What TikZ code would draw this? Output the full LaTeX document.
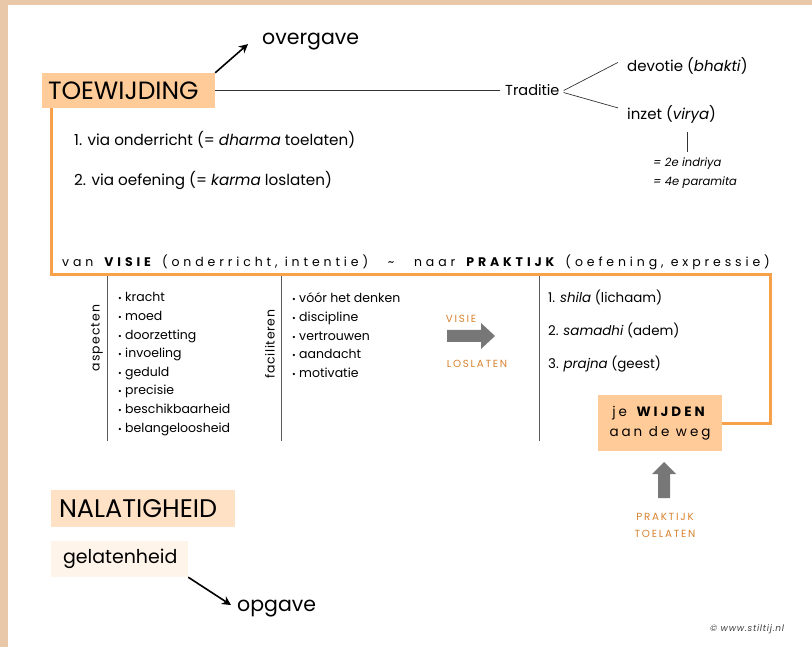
\documentclass[tikz,border=0pt]{standalone}
\usepackage{fontspec}
\setmainfont{Poppins}
\usetikzlibrary{calc,arrows.meta}
\definecolor{frametan}{HTML}{E8C8A8}
\definecolor{boxorange}{HTML}{FFCB98}
\definecolor{boxlight}{HTML}{FFE1C5}
\definecolor{boxpale}{HTML}{FFF4EA}
\definecolor{lineorange}{HTML}{F7A24B}
\definecolor{textorange}{HTML}{D8822E}
\definecolor{arrowgray}{HTML}{777777}
\newcommand{\fsz}[1]{\fontsize{#1}{#1}\selectfont}
\newcommand{\spaced}[1]{\addfontfeature{LetterSpace=#1}}

\begin{document}
\begin{tikzpicture}[x=1pt,y=-1pt,
  txt/.style={anchor=base west,inner sep=0pt},
  bigbox/.style={fill=boxorange,inner sep=0pt,minimum width=173,minimum height=35},
  orangeline/.style={lineorange,line width=3pt},
  thinline/.style={black!80,line width=0.7pt},
  grayline/.style={black!65,line width=0.8pt},
  blackarrow/.style={-{Stealth[length=9pt,width=9pt]},line width=1.6pt},
  tag/.style={anchor=base,inner sep=0pt,textorange,font=\fsz{10.3}\spaced{17}},
  bullet/.style={anchor=base west,inner sep=0pt,font=\fsz{12.5}}]
  \useasboundingbox (0,0) rectangle (812,647);
  \fill[frametan] (0,0) rectangle (812,5);
  \fill[frametan] (0,0) rectangle (8,647);

  % toewijding
  \node[bigbox,font=\fsz{25},text width=161,inner xsep=6pt] (toew) at (128.5,90.5) {TOEWIJDING};
  \node[txt,font=\fsz{20.5}] (over) at (262,45) {overgave};
  \draw[blackarrow] (toew.north east) -- ($(over.west)+(-14,2)$);

  \node[txt,font=\fsz{14.5}] (trad) at (505,96) {Traditie};
  \draw[thinline] (toew.east) -- ([xshift=-5pt]trad.west);
  \node[txt,font=\fsz{15}] (devo) at (627,72) {devotie (\textit{bhakti})};
  \node[txt,font=\fsz{15}] (inzet) at (627,120) {inzet (\textit{virya})};
  \draw[thinline] ($(trad.east)+(4,0)$) -- ($(devo.west)+(-9,-4)$);
  \draw[thinline] ($(trad.east)+(4,2)$) -- ($(inzet.west)+(-9,-7)$);
  \node[txt,font=\fsz{11.5}\itshape] (indr) at (653,167) {= 2e indriya};
  \node[txt,font=\fsz{11.5}\itshape] (param) at (653,186) {= 4e paramita};
  \draw[thinline] ([yshift=-8pt]inzet.south -| indr.north) -- ([yshift=6pt]indr.north);

  \node[txt,font=\fsz{15.2}] (via1) at (74,146) {1. via onderricht (= \textit{dharma} toelaten)};
  \node[txt,font=\fsz{15.2}] (via2) at (74,186) {2. via oefening (= \textit{karma} loslaten)};

  % van visie naar praktijk
  \node[txt,font=\fsz{12.5}\spaced{31}] (vanvisie) at (62,267)
    {van \textbf{VISIE} (onderricht, intentie)\quad\ \textasciitilde\quad\ naar \textbf{PRAKTIJK} (oefening, expressie)};

  \node[bigbox,minimum width=124,minimum height=56,align=center,font=\fsz{13.5}\spaced{22}] (wijden) at (660,423)
    {je \textbf{WIJDEN}\\[6pt]aan de weg};
  \draw[orangeline] ($(toew.south west)+(10,0)$) |- (770,275) |- (wijden.east);

  \draw[grayline] (107,276) -- (107,441);
  \draw[grayline] (281,276) -- (281,441);
  \draw[grayline] (539,276) -- (539,441);
  \node[rotate=90,inner sep=0pt,font=\fsz{12.5}\spaced{8}] (asp) at (97,338) {aspecten};
  \node[rotate=90,inner sep=0pt,font=\fsz{12.5}\spaced{5}] (facil) at (270,344) {faciliteren};

  \foreach \t [count=\i] in {kracht,moed,doorzetting,invoeling,geduld,precisie,beschikbaarheid,belangeloosheid}
    \node[bullet] (aspitem\i) at (118,{302+18.6*(\i-1)}) {{\fsz{9}•}\ \t};
  \foreach \t [count=\i] in {v\'o\'or het denken,discipline,vertrouwen,aandacht,motivatie}
    \node[bullet] (facitem\i) at (292,{303+18.6*(\i-1)}) {{\fsz{9}•}\ \t};

  \node[tag] (visie) at (461,323) {VISIE};
  \fill[arrowgray] (447,330) -- (481,330) -- (481,323) -- (495,336) -- (481,349) -- (481,342) -- (447,342) -- cycle;
  \node[tag] (loslaten) at (477,367) {LOSLATEN};

  \node[txt,font=\fsz{13.4}] (shila) at (548,303) {1. \textit{shila} (lichaam)};
  \node[txt,font=\fsz{13.4}] (samadhi) at (548,336) {2. \textit{samadhi} (adem)};
  \node[txt,font=\fsz{13.4}] (prajna) at (548,369) {3. \textit{prajna} (geest)};

  \fill[arrowgray] (658,498) -- (658,474) -- (652,474) -- (664,462) -- (676,474) -- (670,474) -- (670,498) -- cycle;
  \node[tag] (praktijk) at (665,520) {PRAKTIJK};
  \node[tag] (toelaten) at (665,537) {TOELATEN};

  % nalatigheid
  \node[fill=boxlight,inner sep=0pt,inner xsep=8pt,minimum height=37,text width=168,font=\fsz{25.5}] (nala) at (143,508.5) {NALATIGHEID};
  \node[fill=boxpale,inner sep=0pt,inner xsep=12pt,minimum height=36,text width=113,font=\fsz{19}] (gela) at (119.5,559) {gelatenheid};
  \node[txt,font=\fsz{20.5}] (opga) at (237,611) {opgave};
  \draw[blackarrow] (gela.south east) -- ($(opga.west)+(-6,-3)$);

  \node[txt,font=\fsz{9}\itshape\spaced{8},black!75] (copy) at (710,631) {© www.stiltij.nl};
\end{tikzpicture}
\end{document}
